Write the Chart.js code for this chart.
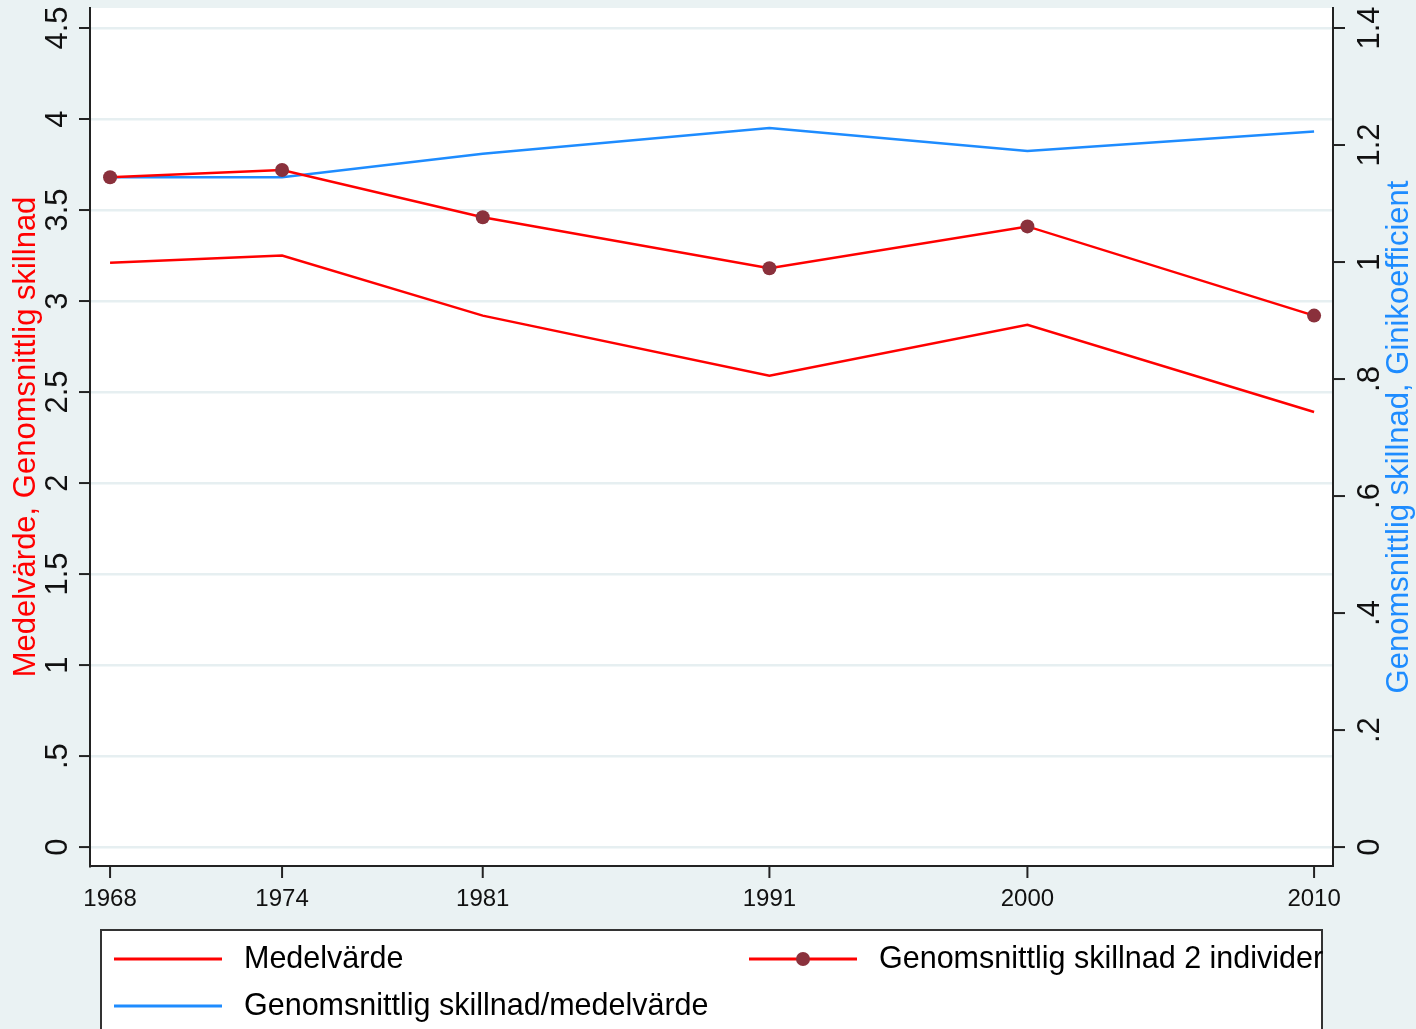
<!DOCTYPE html>
<html>
<head>
<meta charset="utf-8">
<script src="https://cdn.jsdelivr.net/npm/chart.js@4"></script>
<style>
  html, body { margin: 0; padding: 0; background: #eaf2f3; }
  #wrap { width: 1416px; height: 1029px; }
</style>
</head>
<body>
<div id="wrap"><canvas id="giniCanvas" width="1416" height="1029"></canvas></div>
<script>
// years on the x axis
const years = [1968, 1974, 1981, 1991, 2000, 2010];
// left axis series
const medelvarde = [3.21, 3.25, 2.92, 2.59, 2.87, 2.39];
const skillnad2 = [3.68, 3.72, 3.46, 3.18, 3.41, 2.92];
// right axis series
const skillnadKvot = [1.145, 1.145, 1.185, 1.229, 1.19, 1.223];
// tick labels
const leftTicks = [0, 0.5, 1, 1.5, 2, 2.5, 3, 3.5, 4, 4.5];
const leftTickLabels = ['0', '.5', '1', '1.5', '2', '2.5', '3', '3.5', '4', '4.5'];
const rightTicks = [0, 0.2, 0.4, 0.6, 0.8, 1, 1.2, 1.4];
const rightTickLabels = ['0', '.2', '.4', '.6', '.8', '1', '1.2', '1.4'];

const leftTitle = 'Medelvärde, Genomsnittlig skillnad';
const rightTitle = 'Genomsnittlig skillnad, Ginikoefficient';

const RED = '#ff0000';
const BLUE = '#1e8cff';
const MARKER = '#8a313c';
const FONT = '"Liberation Sans", Arial, sans-serif';

function toPoints(values) {
    return years.map((y, i) => ({ x: y, y: values[i] }));
}

// draws tick marks, rotated tick labels, axis titles and the legend box
const stataLook = {
    id: 'stataLook',
    afterDraw(chart) {
        const ctx = chart.ctx;
        const area = chart.chartArea;
        const sx = chart.scales.x;
        const sy = chart.scales.y;
        const sy1 = chart.scales.y1;
        ctx.save();
        ctx.strokeStyle = '#222';
        ctx.lineWidth = 2;
        ctx.fillStyle = '#111';

        // left ticks
        ctx.font = '31px ' + FONT;
        ctx.textAlign = 'center';
        ctx.textBaseline = 'middle';
        leftTicks.forEach((v, i) => {
            const py = sy.getPixelForValue(v);
            ctx.beginPath();
            ctx.moveTo(area.left - 11, py);
            ctx.lineTo(area.left, py);
            ctx.stroke();
            ctx.save();
            ctx.translate(58, py);
            ctx.rotate(-Math.PI / 2);
            ctx.fillText(leftTickLabels[i], 0, 0);
            ctx.restore();
        });

        // right ticks
        rightTicks.forEach((v, i) => {
            const py = sy1.getPixelForValue(v);
            ctx.beginPath();
            ctx.moveTo(area.right, py);
            ctx.lineTo(area.right + 12, py);
            ctx.stroke();
            ctx.save();
            ctx.translate(1370, py);
            ctx.rotate(-Math.PI / 2);
            ctx.fillText(rightTickLabels[i], 0, 0);
            ctx.restore();
        });

        // x ticks
        ctx.font = '24px ' + FONT;
        years.forEach(v => {
            const px = sx.getPixelForValue(v);
            ctx.beginPath();
            ctx.moveTo(px, area.bottom);
            ctx.lineTo(px, area.bottom + 12);
            ctx.stroke();
            ctx.fillText(String(v), px, 899);
        });

        // axis titles
        const midY = (area.top + area.bottom) / 2;
        ctx.font = '31px ' + FONT;
        ctx.fillStyle = RED;
        ctx.save();
        ctx.translate(26, midY);
        ctx.rotate(-Math.PI / 2);
        ctx.fillText(leftTitle, 0, 0);
        ctx.restore();

        ctx.fillStyle = BLUE;
        ctx.save();
        ctx.translate(1399, midY);
        ctx.rotate(-Math.PI / 2);
        ctx.fillText(rightTitle, 0, 0);
        ctx.restore();

        // legend
        ctx.fillStyle = '#ffffff';
        ctx.fillRect(101, 930, 1221, 110);
        ctx.strokeStyle = '#333';
        ctx.lineWidth = 2;
        ctx.strokeRect(101, 930, 1221, 110);

        const items = [
            { ds: 0, x: 114, y: 959 },
            { ds: 1, x: 749, y: 959 },
            { ds: 2, x: 114, y: 1006 }
        ];
        ctx.font = '30.5px ' + FONT;
        ctx.textAlign = 'left';
        items.forEach(it => {
            const ds = chart.data.datasets[it.ds];
            ctx.strokeStyle = ds.borderColor;
            ctx.lineWidth = 3;
            ctx.beginPath();
            ctx.moveTo(it.x, it.y);
            ctx.lineTo(it.x + 108, it.y);
            ctx.stroke();
            if (ds.pointRadius > 0) {
                ctx.fillStyle = ds.pointBackgroundColor;
                ctx.beginPath();
                ctx.arc(it.x + 54, it.y, ds.pointRadius, 0, Math.PI * 2);
                ctx.fill();
            }
            ctx.fillStyle = '#000';
            ctx.fillText(ds.label, it.x + 130, it.y + 1);
        });
        ctx.restore();
    }
};

const plotBackground = {
    id: 'plotBackground',
    beforeDraw(chart) {
        const ctx = chart.ctx;
        const a = chart.chartArea;
        ctx.save();
        ctx.fillStyle = '#eaf2f3';
        ctx.fillRect(0, 0, chart.width, chart.height);
        ctx.fillStyle = '#ffffff';
        ctx.fillRect(a.left, a.top, a.right - a.left, a.bottom - a.top);
        ctx.restore();
    }
};

const ctx = document.getElementById('giniCanvas').getContext('2d');

new Chart(ctx, {
    type: 'line',
    data: {
        datasets: [
            {
                label: 'Medelvärde',
                data: toPoints(medelvarde),
                borderColor: RED,
                borderWidth: 2.5,
                pointRadius: 0,
                yAxisID: 'y'
            },
            {
                label: 'Genomsnittlig skillnad 2 individer',
                data: toPoints(skillnad2),
                borderColor: RED,
                borderWidth: 2.5,
                pointRadius: 7,
                pointBackgroundColor: MARKER,
                pointBorderColor: MARKER,
                pointBorderWidth: 0,
                yAxisID: 'y'
            },
            {
                label: 'Genomsnittlig skillnad/medelvärde',
                data: toPoints(skillnadKvot),
                borderColor: BLUE,
                borderWidth: 2.5,
                pointRadius: 0,
                yAxisID: 'y1'
            }
        ]
    },
    options: {
        responsive: false,
        animation: false,
        layout: { padding: { top: 8 } },
        plugins: {
            legend: { display: false },
            tooltip: { enabled: false }
        },
        scales: {
            x: {
                type: 'linear',
                min: 1967.3,
                max: 2010.66,
                afterBuildTicks: s => { s.ticks = years.map(v => ({ value: v })); },
                afterFit: s => { s.height = 163; },
                ticks: { display: false },
                grid: { display: false },
                border: { color: '#222', width: 2 }
            },
            y: {
                position: 'left',
                min: -0.104,
                max: 4.61,
                afterBuildTicks: s => { s.ticks = leftTicks.map(v => ({ value: v })); },
                afterFit: s => { s.width = 90; },
                ticks: { display: false },
                grid: { color: '#e6eff1', lineWidth: 2.5, drawTicks: false },
                border: { color: '#222', width: 2 }
            },
            y1: {
                position: 'right',
                min: -0.104 * 1.4 / 4.5,
                max: 4.61 * 1.4 / 4.5,
                afterBuildTicks: s => { s.ticks = rightTicks.map(v => ({ value: v })); },
                afterFit: s => { s.width = 83; },
                ticks: { display: false },
                grid: { display: false },
                border: { color: '#222', width: 2 }
            }
        }
    },
    plugins: [plotBackground, stataLook]
});
</script>
</body>
</html>
